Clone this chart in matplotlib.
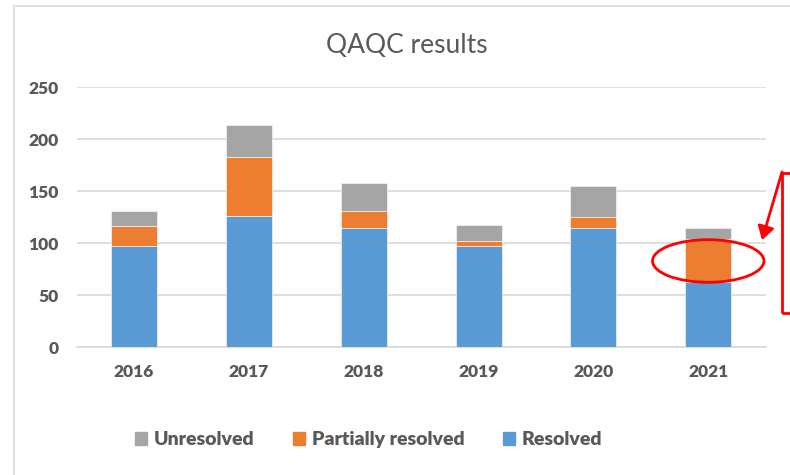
import matplotlib
matplotlib.use("Agg")
import matplotlib.pyplot as plt
from matplotlib.patches import Patch, Ellipse, Rectangle, FancyArrowPatch
import numpy as np

years = ["2016", "2017", "2018", "2019", "2020", "2021"]
resolved = [97, 126, 115, 97, 115, 63]
partially = [20, 57, 16, 5, 10, 41]
unresolved = [14, 31, 27, 16, 30, 11]

c_res = "#5b9bd5"
c_part = "#ed7d31"
c_unres = "#a5a5a5"
txt = "#595959"

plt.rcParams["font.family"] = ["Lato", "DejaVu Sans"]

fig = plt.figure(figsize=(7.9, 4.75), dpi=100)
ax = fig.add_axes([0.0971, 0.2688, 0.8721, 0.5474])

x = np.arange(len(years))
res = np.array(resolved)
part = np.array(partially)
unr = np.array(unresolved)
w = 0.4
ax.bar(x, res, w, color=c_res, edgecolor="white", linewidth=0.4, zorder=3)
ax.bar(x, part, w, bottom=res, color=c_part, edgecolor="white", linewidth=0.4, zorder=3)
ax.bar(x, unr, w, bottom=res + part, color=c_unres, edgecolor="white", linewidth=0.4, zorder=3)

ax.set_xlim(-0.5, len(years) - 0.5)
ax.set_ylim(0, 250)
ax.set_yticks(range(0, 251, 50))
ax.set_xticks(x)
ax.set_xticklabels(years)
ax.yaxis.grid(True, color="#d9d9d9", linewidth=1.2, zorder=0)
ax.set_axisbelow(True)
for s in ["top", "right", "left"]:
    ax.spines[s].set_visible(False)
ax.spines["bottom"].set_color("#d9d9d9")
ax.spines["bottom"].set_linewidth(1.2)
ax.tick_params(length=0, labelsize=12.5, labelcolor=txt)
ax.tick_params(axis="x", pad=12)
ax.tick_params(axis="y", pad=13)
for lab in ax.get_xticklabels() + ax.get_yticklabels():
    lab.set_fontweight("heavy")

fig.text(0.515, 0.905, "QAQC results", ha="center", va="center", fontsize=19, color=txt)

handles = [Patch(color=c_unres), Patch(color=c_part), Patch(color=c_res)]
leg = fig.legend(handles, ["Unresolved", "Partially resolved", "Resolved"],
                 loc="center", bbox_to_anchor=(0.467, 0.074), ncol=3, frameon=False,
                 handlelength=0.6, handleheight=0.6, handletextpad=0.35, columnspacing=2.0,
                 prop={"size": 14, "weight": "heavy"})
for t in leg.get_texts():
    t.set_color(txt)

# chart frame
fig.patches.append(Rectangle((14 / 790, -0.1), 1.2, 1 - 6 / 475 + 0.1, transform=fig.transFigure,
                             fill=False, edgecolor="#d9d9d9", linewidth=1.2))

# red highlight
ax.add_patch(Ellipse((5, 83), 0.97, 41, fill=False, edgecolor="red", linewidth=2, zorder=5,
                     clip_on=False))
fig.patches.append(Rectangle((782 / 790, 1 - 313 / 475), 0.05, (313 - 173) / 475,
                             transform=fig.transFigure, fill=False, edgecolor="red", linewidth=2))
fig.patches.append(FancyArrowPatch((782 / 790, 1 - 172 / 475), (762 / 790, 1 - 240 / 475),
                                   transform=fig.transFigure, arrowstyle="-|>,head_length=8,head_width=5",
                                   color="red", linewidth=2, shrinkA=0, shrinkB=0))

fig.savefig("out.png", dpi=100)
